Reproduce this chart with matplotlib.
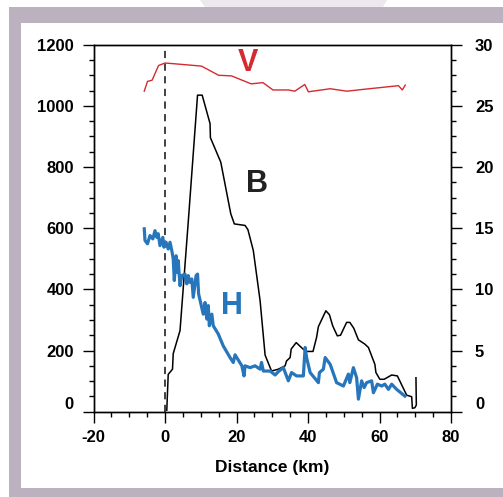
from matplotlib import pyplot as plt
from matplotlib.patches import Rectangle, Polygon
from matplotlib.ticker import MultipleLocator, FuncFormatter

plt.rcParams['font.family'] = ['Liberation Sans', 'DejaVu Sans']
plt.rcParams['font.weight'] = 'bold'
plt.rcParams['axes.unicode_minus'] = False

# V (right axis units)
v_dist = [-5.8, -4.9, -3.6, -1.8, 0, 2.3, 10.2, 15.0, 18.6, 24.1, 27.4, 30.2,
          34.5, 36.3, 39.1, 40.1, 46.2, 50.9, 55.5, 65.3, 66.4, 67.2]
v_vals = [26.2, 27.0, 27.1, 28.3, 28.5, 28.45, 28.25, 27.5, 27.45, 26.8, 26.9, 26.3,
          26.3, 26.2, 26.75, 26.15, 26.4, 26.2, 26.35, 26.65, 26.3, 26.7]

# B (left axis units)
b_dist = [0.5, 0.9, 2.1, 2.3, 4.2, 6.5, 9.1, 10.4, 12.6, 12.7, 15.6, 18.4, 19.4,
          22.4, 23.2, 24.7, 26.6, 28.0, 29.8, 31.7, 33.6, 34.0, 35.0, 35.3, 36.7,
          38.6, 39.4, 41.4, 42.4, 42.9, 45.0, 46.0, 46.9, 48.2, 49.1, 50.8, 51.7,
          52.8, 54.1, 55.9, 56.9, 58.7, 59.0, 60.1, 61.3, 63.4, 65.0, 67.6, 69.0,
          69.2, 69.9, 70.3, 70.2]
b_vals = [5, 122, 139, 190, 265, 620, 1035, 1035, 942, 896, 816, 647, 614,
          609, 595, 527, 363, 185, 133, 139, 150, 166, 177, 205, 226,
          205, 197, 197, 243, 278, 330, 317, 281, 248, 250, 292, 292,
          273, 235, 221, 210, 155, 128, 106, 106, 120, 117, 54, 49,
          11, 13, 22, 111]

# H (left axis units)
h_dist = [-5.8, -5.6, -4.9, -4.2, -3.4, -2.8, -2.3, -1.9, -1.4, -0.6, -0.3, 0.3,
          0.9, 1.4, 1.9, 2.3, 2.6, 3.1, 3.4, 3.7, 4.2, 4.7, 5.6, 6.1, 6.5, 7.0,
          7.5, 7.9, 8.7, 9.1, 9.4, 10.7, 11.2, 11.7, 12.1, 12.4, 13.1, 13.5, 14.9,
          16.3, 18.2, 19.1, 19.6, 21.5, 22.1, 22.4, 23.8, 25.2, 26.6, 27.0, 27.5,
          29.4, 30.8, 31.7, 33.1, 34.5, 35.4, 36.8, 38.7, 39.2, 39.6, 40.6, 42.9,
          43.2, 44.3, 44.8, 46.2, 48.0, 49.9, 51.3, 51.7, 52.7, 53.6, 54.1, 55.0,
          55.7, 56.4, 57.8, 58.3, 59.4, 60.6, 61.5, 62.5, 63.4, 64.8, 67.1]
h_vals = [598, 560, 549, 576, 565, 592, 570, 582, 543, 570, 538, 554,
          532, 554, 527, 500, 429, 510, 456, 494, 412, 445, 450, 418, 445, 423,
          434, 374, 445, 450, 385, 319, 357, 303, 347, 281, 319, 281, 254,
          215, 177, 161, 186, 150, 117, 150, 144, 150, 139, 161, 133,
          133, 120, 131, 144, 101, 128, 117, 117, 210, 177, 128, 95,
          128, 139, 177, 155, 95, 84, 123, 95, 144, 111, 41, 101,
          79, 95, 101, 62, 90, 84, 90, 73, 90, 73, 51]

W, H = 503, 497
fig = plt.figure(figsize=(W / 100, H / 100), dpi=100)

# frame decoration (pixel coords -> figure fraction)
def fx(px):
    return px / W

def fy(py):
    return 1 - py / H

fig.patches.append(Polygon([(fx(200), fy(0)), (fx(387), fy(0)), (fx(383), fy(7)), (fx(205), fy(7))],
                           closed=True, transform=fig.transFigure, facecolor='#ece8ee',
                           edgecolor='none', zorder=-10))
fig.patches.append(Rectangle((fx(9), fy(497)), fx(494), 490 / H, transform=fig.transFigure,
                             facecolor='#bcb1bf', edgecolor='none', zorder=-10))
fig.patches.append(Rectangle((fx(21), fy(488)), fx(482), 465 / H, transform=fig.transFigure,
                             facecolor='white', edgecolor='none', zorder=-9))

ax = fig.add_axes([fx(93.5), fy(411.7), fx(451 - 93.5), (411.7 - 44.7) / H])
ax.set_facecolor('white')
ax2 = ax.twinx()

ax.plot(b_dist, b_vals, color='black', lw=1.1, zorder=3)
ax.plot(h_dist, h_vals, color='#2776bc', lw=2.3, zorder=4)
ax.axvline(0, color='#333333', lw=1.3, ls=(0, (4, 3)), zorder=2)
ax2.plot(v_dist, v_vals, color='#d42a32', lw=1.0)

ax.set_xlim(-20, 80)
ax.set_ylim(0, 1200)
ax2.set_ylim(0, 30)

ax.xaxis.set_major_locator(MultipleLocator(20))
ax.xaxis.set_minor_locator(MultipleLocator(5))
ax.yaxis.set_major_locator(MultipleLocator(200))
ax.yaxis.set_minor_locator(MultipleLocator(50))
ax2.yaxis.set_major_locator(MultipleLocator(5))
ax2.yaxis.set_minor_locator(MultipleLocator(1.25))

# zero is written by hand a bit above the spine
no_zero = FuncFormatter(lambda v, p: '' if v == 0 else '%g' % v)
ax.yaxis.set_major_formatter(no_zero)
ax2.yaxis.set_major_formatter(no_zero)

len_major, pad_l, pad_r = 8.2, 6, 9
for a in (ax, ax2):
    a.tick_params(which='major', direction='out', length=len_major, width=1.0, labelsize=12)
    a.tick_params(which='minor', direction='out', length=3.6, width=1.0)
    for s in a.spines.values():
        s.set_linewidth(1.0)
ax.tick_params(axis='x', pad=5)
ax.tick_params(axis='y', pad=pad_l)
ax2.tick_params(axis='y', pad=pad_r)
ax.tick_params(axis='x', which='both', top=False)

ax.yaxis.get_major_ticks()[0].tick1line.set_visible(False)
ax2.yaxis.get_major_ticks()[0].tick2line.set_visible(False)

ax.annotate('0', xy=(0, 0), xycoords=('axes fraction', 'data'),
            xytext=(-(len_major + pad_l), 5), textcoords='offset points',
            ha='right', va='center', fontsize=12, fontweight='bold')
ax2.annotate('0', xy=(1, 0), xycoords=('axes fraction', 'data'),
             xytext=(len_major + pad_r, 5), textcoords='offset points',
             ha='left', va='center', fontsize=12, fontweight='bold')

ax.set_xlabel('Distance (km)', fontsize=12.5, fontweight='bold', labelpad=11)

ax.text(23.2, 1140, 'V', color='#d42a32', fontsize=22, fontweight='bold', ha='center', va='center')
ax.text(25.6, 745, 'B', color='#222222', fontsize=22, fontweight='bold', ha='center', va='center')
ax.text(18.7, 345, 'H', color='#2776bc', fontsize=22, fontweight='bold', ha='center', va='center')

plt.savefig('out.png', dpi=100)
